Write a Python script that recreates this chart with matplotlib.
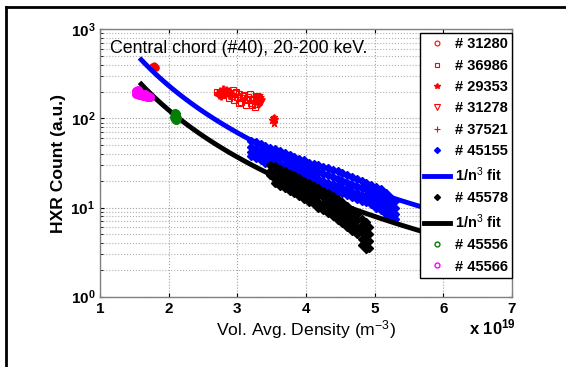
import numpy as np
import matplotlib
matplotlib.use("Agg")
import matplotlib.pyplot as plt
from matplotlib.lines import Line2D

plt.rcParams['font.family'] = ['Liberation Sans', 'DejaVu Sans']
plt.rcParams['mathtext.fontset'] = 'custom'
plt.rcParams['mathtext.rm'] = 'Liberation Sans'
plt.rcParams['mathtext.bf'] = 'Liberation Sans:bold'
plt.rcParams['mathtext.it'] = 'Liberation Sans:italic'

# ---- data (density in units of 1e19 m^-3, HXR counts a.u.) ----
x_31280 = [1.76, 1.78, 1.80, 1.82, 1.79, 1.77, 1.81]
y_31280 = [390, 370, 385, 365, 400, 360, 375]

x_36986 = [2.70, 2.78, 2.85, 2.92, 2.96, 3.00, 3.03, 3.06, 3.10, 3.13, 3.16, 3.20, 3.23, 3.26,
           2.88, 2.95, 3.05, 3.12, 3.18, 3.08, 3.15, 3.22, 2.98, 3.02, 2.93, 3.25, 3.19]
y_36986 = [200, 185, 205, 180, 195, 175, 190, 170, 185, 160, 175, 150, 165, 145,
           170, 160, 155, 140, 160, 180, 165, 140, 200, 150, 210, 135, 190]

x_29353 = [3.52, 3.54, 3.53, 3.53, 3.55, 3.51]
y_29353 = [100, 95, 90, 105, 98, 97]

x_31278 = [3.28, 3.30, 3.32, 3.34, 3.30, 3.33, 3.29, 3.31, 3.35]
y_31278 = [165, 158, 170, 155, 148, 162, 172, 140, 150]

x_37521 = [2.72, 2.75, 2.78, 2.80, 2.83, 2.85, 2.88, 2.90, 2.74, 2.79, 2.86, 2.76, 2.82, 2.89]
y_37521 = [195, 205, 190, 200, 210, 195, 185, 200, 185, 215, 205, 180, 188, 192]

# shot 45155: columns of readings (density, counts spread at that density)
d_45155 = [3.20, 3.27, 3.34, 3.41, 3.48, 3.55, 3.62, 3.69, 3.76, 3.83, 3.90, 3.97, 4.04, 4.11,
           4.18, 4.25, 4.32, 4.39, 4.46, 4.53, 4.60, 4.67, 4.74, 4.81, 4.88, 4.95, 5.02,
           5.09, 5.16, 5.23, 5.30]
c_45155 = [[56, 48, 42, 38], [54, 46, 40, 36], [52, 44, 38, 34], [49, 42, 36, 32],
           [47, 40, 35, 31], [45, 38, 33, 29], [43, 36, 31, 27], [41, 35, 30, 26],
           [39, 33, 28, 25], [37, 31, 27, 23.5], [35, 30, 26, 22], [34, 28.5, 24.5, 21],
           [32, 27, 23, 20], [31, 26, 22, 19], [30, 25, 21, 18], [28.5, 24, 20, 17],
           [27.5, 23, 19, 16.5], [26.5, 22, 18.5, 16], [25.5, 21, 17.5, 15],
           [24.5, 20, 16.5, 14.5], [23.5, 19, 16, 14], [22, 18, 15, 13], [21, 17, 14.5, 12.5],
           [20, 16.5, 14, 12], [19, 16, 13.5, 11.5], [18, 15, 12.5, 11], [17, 14, 12, 10],
           [16, 13, 11, 9.5], [14.5, 12, 10, 8.5], [13, 11, 9.5, 8], [12, 10, 8.5, 7.5]]

# shot 45578
d_45578 = [3.48, 3.55, 3.62, 3.69, 3.76, 3.83, 3.90, 3.97, 4.04, 4.11, 4.18, 4.25, 4.32,
           4.39, 4.46, 4.53, 4.60, 4.67, 4.74, 4.81, 4.88, 4.92]
c_45578 = [[30, 26, 23], [29, 25, 21, 19], [27, 23, 20, 17.5], [26, 22, 19, 16.5],
           [24, 20.5, 17.5, 15.5], [23, 19.5, 16.5, 14.5], [21.5, 18, 15.5, 13.5],
           [20, 17, 14.5, 12.5], [19, 16, 13.5, 11.5], [17.5, 15, 12.5, 11],
           [16.5, 14, 11.5, 10], [15.5, 13, 11, 9.3], [14.5, 12, 10, 8.6], [13.5, 11, 9.3, 8],
           [12.5, 10.3, 8.6, 7.3], [11.5, 9.5, 8, 6.7], [10.5, 8.7, 7.2, 6.1],
           [9.5, 8, 6.5, 5.5], [8.5, 7.2, 5.9, 5], [7.5, 6.4, 5.3, 4.4, 3.8],
           [6.8, 5.8, 4.8, 4, 3.4], [6, 5, 4.2, 3.5]]

x_45556 = [2.09, 2.10, 2.10, 2.11, 2.08, 2.12, 2.09, 2.11]
y_45556 = [115, 108, 102, 96, 105, 100, 98, 112]

x_45566 = [1.52, 1.55, 1.58, 1.60, 1.65, 1.70, 1.73, 1.53, 1.57, 1.62, 1.68, 1.72, 1.55, 1.66]
y_45566 = [205, 200, 195, 190, 185, 178, 175, 190, 185, 180, 175, 172, 210, 190]

# 1/n^3 fits: counts = C / n^3
fit_C_45155 = 1870.0
fit_C_45578 = 995.0
fit_n = np.linspace(1.6, 6.2, 100)


def flatten(dens, counts):
    xs, ys = [], []
    for d, col in zip(dens, counts):
        for c in col:
            xs.append(d)
            ys.append(c)
    return xs, ys


x_45155, y_45155 = flatten(d_45155, c_45155)
x_45578, y_45578 = flatten(d_45578, c_45578)

fig = plt.figure(figsize=(5.66, 3.67), dpi=100)
ax = fig.add_axes([0.1767, 0.1916, 0.7279, 0.7284])

red = '#ff0000'
blue = '#0000ff'
green = '#007f00'
magenta = '#ff00ff'
ax.plot(x_31280, y_31280, 'o', ms=3, mfc='none', mec=red, mew=1.5)
ax.plot(x_36986, y_36986, 's', ms=4.5, mfc='none', mec=red, mew=0.8)
ax.plot(x_29353, y_29353, '*', ms=5, color=red)
ax.plot(x_31278, y_31278, 'v', ms=5, mfc='none', mec=red, mew=1.5)
ax.plot(x_37521, y_37521, '+', ms=6, color=red, mew=2)
ax.plot(x_45155, y_45155, 'D', ms=4.5, color=blue)
ax.plot(fit_n, fit_C_45155 / fit_n**3, '-', color=blue, lw=3.5)
ax.plot(x_45578, y_45578, 'D', ms=4.5, color='black')
ax.plot(fit_n, fit_C_45578 / fit_n**3, '-', color='black', lw=3.5)
ax.plot(x_45556, y_45556, 'o', ms=4, mfc='none', mec=green, mew=2.5)
ax.plot(x_45566, y_45566, 'o', ms=4, mfc='none', mec=magenta, mew=2.5)

# legend proxies with small markers, like the original
handles = [
    Line2D([], [], ls='none', marker='o', ms=3.5, mfc='none', mec=red, mew=0.8),
    Line2D([], [], ls='none', marker='s', ms=3.5, mfc='none', mec=red, mew=0.8),
    Line2D([], [], ls='none', marker='*', ms=4, color=red),
    Line2D([], [], ls='none', marker='v', ms=4, mfc='none', mec=red, mew=0.8),
    Line2D([], [], ls='none', marker='+', ms=4.5, color=red, mew=0.8),
    Line2D([], [], ls='none', marker='D', ms=3, color=blue),
    Line2D([], [], color=blue, lw=3.5),
    Line2D([], [], ls='none', marker='D', ms=3, color='black'),
    Line2D([], [], color='black', lw=3.5),
    Line2D([], [], ls='none', marker='o', ms=3.5, mfc='none', mec=green, mew=1),
    Line2D([], [], ls='none', marker='o', ms=3.5, mfc='none', mec=magenta, mew=1),
]
labels = ['# 31280', '# 36986', '# 29353', '# 31278', '# 37521', '# 45155',
          '1/n$^3$ fit', '# 45578', '1/n$^3$ fit', '# 45556', '# 45566']

ax.set_yscale('log')
ax.set_xlim(1, 7)
ax.set_ylim(1, 1000)
ax.set_xticks([1, 2, 3, 4, 5, 6, 7])
ax.set_xticklabels(['1', '2', '3', '4', '5', '6', '7'], fontweight='bold')
ax.set_yticks([1, 10, 100, 1000])
ax.set_yticklabels([r'$\mathbf{10^{0}}$', r'$\mathbf{10^{1}}$', r'$\mathbf{10^{2}}$', r'$\mathbf{10^{3}}$'])
ax.tick_params(axis='both', which='both', direction='in', top=True, right=True,
               labelsize=11, colors='black', length=3)
ax.tick_params(axis='y', which='minor', length=2)
ax.tick_params(axis='y', which='minor', labelleft=False)
for s in ax.spines.values():
    s.set_color('#808080')
    s.set_linewidth(1)

ax.grid(True, which='major', linestyle=':', color='#a0a0a0', lw=0.8)
ax.grid(True, which='minor', axis='y', linestyle=':', color='#b0b0b0', lw=0.8)
ax.set_axisbelow(True)

ax.set_xlabel('Vol. Avg. Density (m$^{-3}$)', fontsize=12.6, labelpad=2)
ax.set_ylabel('HXR Count (a.u.)', fontsize=12.6, fontweight='bold', labelpad=3)
ax.text(0.025, 0.96, 'Central chord (#40), 20-200 keV.', transform=ax.transAxes,
        fontsize=12.8, va='top', ha='left')
fig.text(0.87, 0.108, r'x 10$^{\mathbf{19}}$', fontsize=12, fontweight='bold', ha='center', va='center')

leg = ax.legend(handles, labels, loc='upper right', bbox_to_anchor=(1.0, 0.986),
                prop={'weight': 'bold', 'size': 10.5}, frameon=True, fancybox=False,
                edgecolor='black', framealpha=1, handlelength=1.8, handletextpad=0.3,
                labelspacing=0.5, borderpad=0.3, borderaxespad=0)
leg.get_frame().set_linewidth(1)

# page frame (left and top edges)
fig.add_artist(Line2D([0.0106, 0.0106], [0.0, 0.981], color='black', lw=2, transform=fig.transFigure))
fig.add_artist(Line2D([0.0106, 1.0], [0.981, 0.981], color='black', lw=2, transform=fig.transFigure))

fig.savefig('out.png', dpi=100)
